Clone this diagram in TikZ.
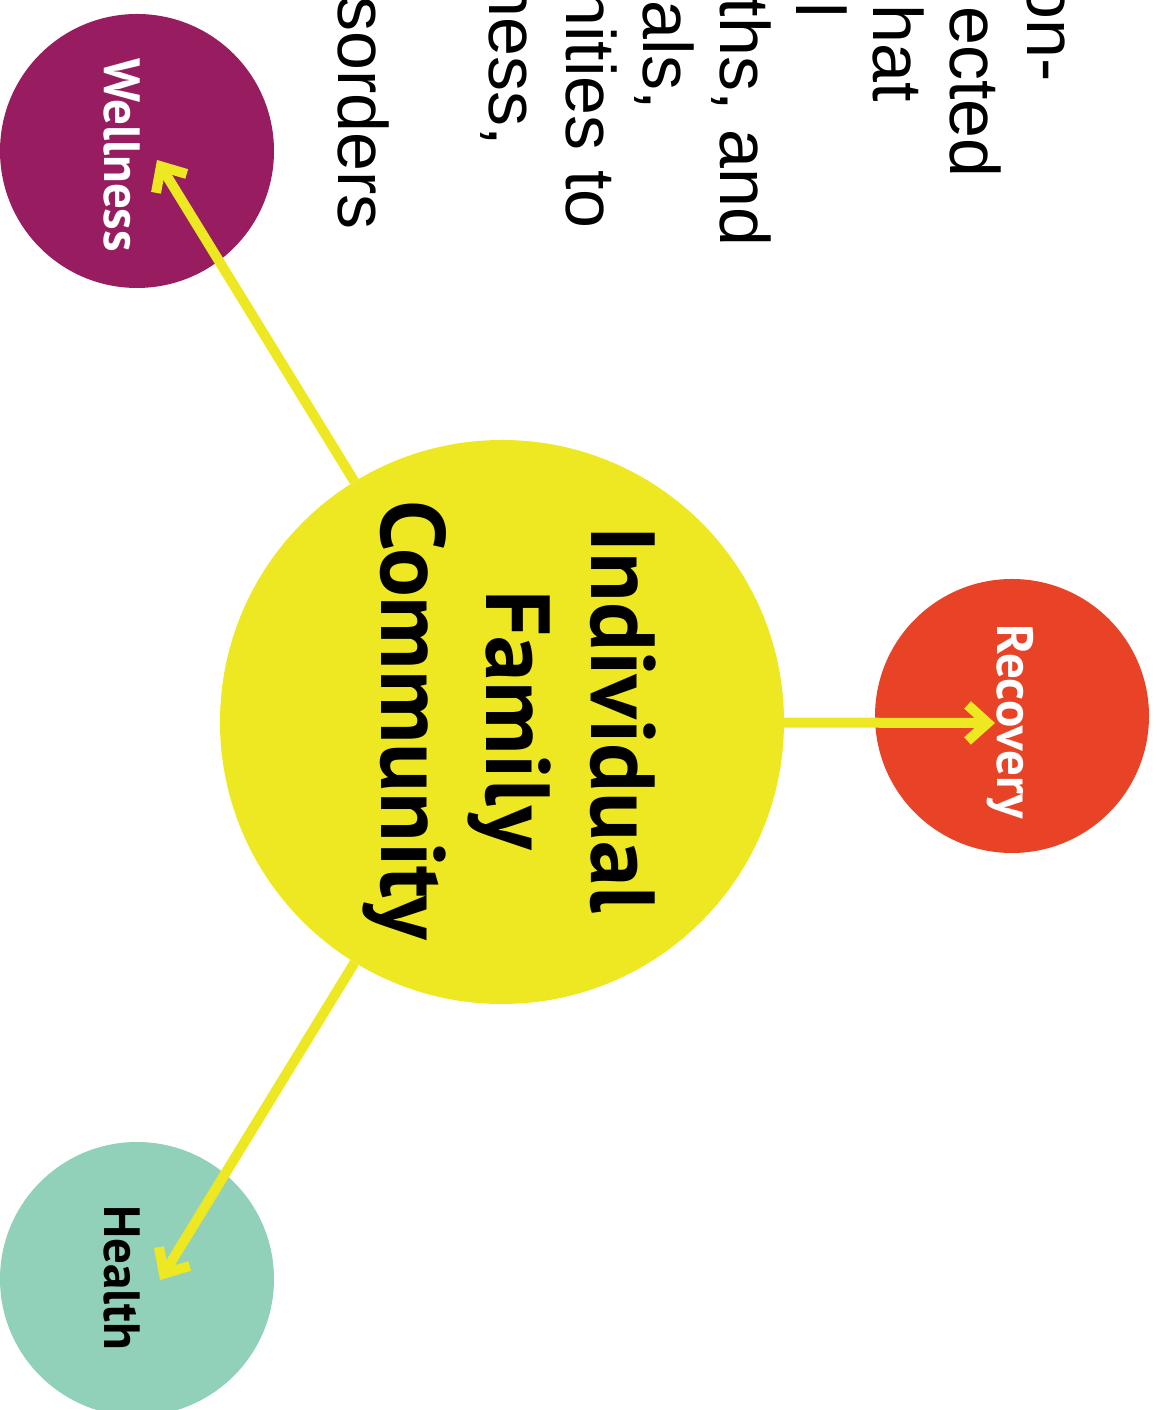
\documentclass[tikz,border=0pt]{standalone}
\usepackage{fontspec}
\usetikzlibrary{arrows.meta}

\newfontfamily\bodyfont{Liberation Sans}
\newfontfamily\labelfont{PT Sans}

\definecolor{hubyellow}{RGB}{237,232,34}
\definecolor{wellcolor}{RGB}{151,29,96}
\definecolor{recocolor}{RGB}{232,67,38}
\definecolor{healcolor}{RGB}{146,209,185}

\begin{document}
\begin{tikzpicture}[x=1pt,y=1pt,
    set/.style={circle, inner sep=0pt, minimum size=#1},
    link/.style={draw=hubyellow, line width=10pt, -{Straight Barb[length=20pt,width=36pt]}},
    tag/.style={font=\labelfont\bfseries\fontsize{51}{58}\selectfont, rotate=-90, anchor=base, inner sep=0pt},
    para/.style={font=\bodyfont\fontsize{70}{77}\selectfont, rotate=-90, anchor=base east, inner sep=0pt}]

        \useasboundingbox (0,0) rectangle (1156,1410);
        \clip (0,0) rectangle (1156,1410);

        % the text behind the picture
        \node[para] (p1) at (1027,1328) {on-};
        \node[para] (p2) at (950,1232) {ected};
        \node[para] (p3) at (873,1308) {hat};
        \node[para] (p4) at (796,1392) {l};
        \node[para] (p5) at (720,1163) {ths, and};
        \node[para] (p6) at (643,1300) {als,};
        \node[para] (p7) at (566,1181) {nities to};
        \node[para] (p8) at (489,1264) {ness,};
        \node[para] (p9) at (338,1180) {sorders};

        % draw the sets
        \node[set=564pt, fill=hubyellow] (hub) at (502,688) {};
        \node[set=274pt, fill=recocolor] (recovery) at (1012,694) {};
        \node[set=274pt, fill=wellcolor] (wellness) at (137,1259) {};
        \node[set=274pt, fill=healcolor] (health) at (137,131) {};

        % the texts
        \node[font=\labelfont\bfseries\fontsize{91}{105}\selectfont, align=center, rotate=-90, inner sep=0pt]
            (hubtext) at (510,690) {Individual\\Family\\Community};
        \node[tag, text=white] (recolabel) at (997,688) {Recovery};
        \node[tag, text=white] (welllabel) at (104,1255) {Wellness};
        \node[tag, text=black] (heallabel) at (104,132) {Health};

        % the arrow tips inside the small sets
        \coordinate (rtip) at (995,687);
        \coordinate (wtip) at (157,1250);
        \coordinate (htip) at (160,130);

        % draw the arrows
        \draw[link] (hub) -- (rtip);
        \draw[link] (hub) -- (wtip);
        \draw[link] (hub) -- (htip);

\end{tikzpicture}
\end{document}
